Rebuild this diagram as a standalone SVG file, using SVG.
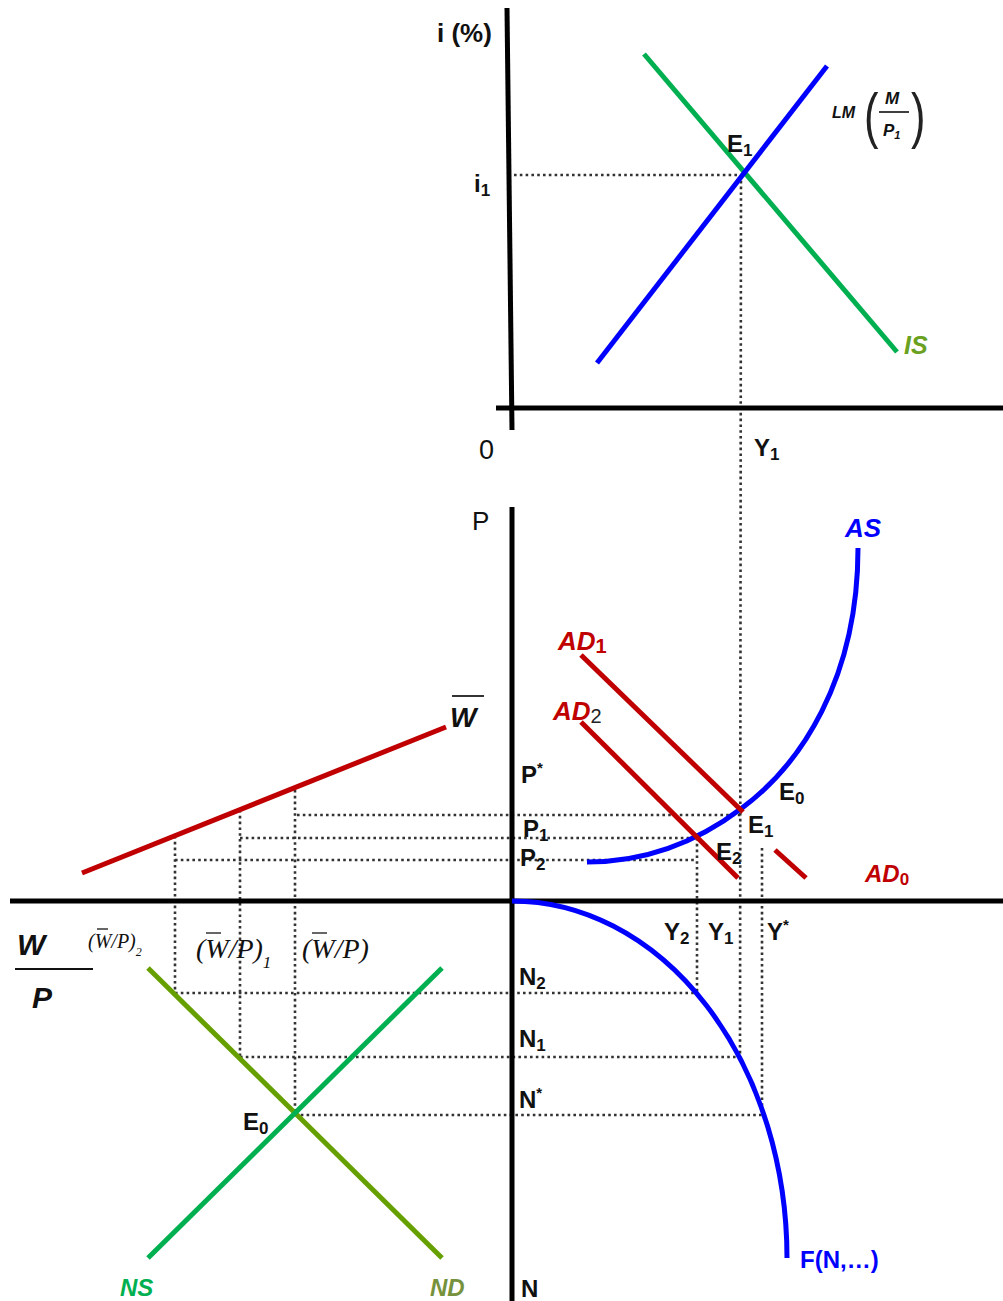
<svg xmlns="http://www.w3.org/2000/svg" width="1003" height="1301" viewBox="0 0 1003 1301">
<style>
text{font-family:"Liberation Sans",Arial,sans-serif;font-weight:bold;font-size:24px;fill:#111}
.it{font-style:italic}
.sub{font-size:17px}
.ax{stroke:#000;stroke-width:5;fill:none}
.dot{stroke:#333;stroke-width:2.6;stroke-dasharray:2.6,3.2;fill:none}
.blue{stroke:#0000ff;stroke-width:5;fill:none}
.red{stroke:#c00000;stroke-width:5;fill:none}
.serif{font-family:"Liberation Serif","Times New Roman",serif;font-weight:normal;font-style:italic}
</style>
<rect width="1003" height="1301" fill="#fff"/>

<g id="connectors">
  <line class="dot" x1="514" y1="175" x2="742" y2="175"/>
  <line class="dot" x1="741" y1="175" x2="740" y2="1057"/>
  <line class="dot" x1="297" y1="815" x2="742" y2="815"/>
  <line class="dot" x1="240" y1="838" x2="700" y2="838"/>
  <line class="dot" x1="175" y1="860" x2="694" y2="860"/>
  <line class="dot" x1="175" y1="836" x2="175" y2="993"/>
  <line class="dot" x1="240" y1="810" x2="240" y2="1057"/>
  <line class="dot" x1="295" y1="790" x2="295" y2="1115"/>
  <line class="dot" x1="697" y1="838" x2="697" y2="993"/>
  <line class="dot" x1="762" y1="848" x2="762" y2="1115"/>
  <line class="dot" x1="175" y1="993" x2="697" y2="993"/>
  <line class="dot" x1="240" y1="1057" x2="740" y2="1057"/>
  <line class="dot" x1="295" y1="1115" x2="762" y2="1115"/>
</g>

<g id="axes">
  <line class="ax" x1="507" y1="8" x2="512" y2="430"/>
  <line class="ax" x1="496" y1="408" x2="1003" y2="408"/>
  <line class="ax" x1="512" y1="507" x2="512" y2="1301"/>
  <line class="ax" x1="10" y1="901" x2="1003" y2="901"/>
</g>

<g id="IS">
  <line x1="644" y1="54" x2="897" y2="352" stroke="#00b050" stroke-width="5"/>
  <text class="it" x="904" y="354" style="fill:#6aa121;font-size:25px">IS</text>
</g>
<g id="LM">
  <line class="blue" x1="597" y1="363" x2="827" y2="66"/>
  <text class="it" x="832" y="118" style="font-size:16px">LM</text>
  <text x="864" y="136" style="font-weight:normal;font-size:62px;fill:#222;transform:scale(0.7,1);transform-origin:864px 136px">(</text>
  <text x="885" y="104" class="it" style="font-size:17px">M</text>
  <line x1="879" y1="112" x2="909" y2="112" stroke="#111" stroke-width="1.6"/>
  <text x="883" y="136" class="it" style="font-size:17px">P<tspan style="font-size:11px" dy="3">1</tspan></text>
  <text x="911" y="136" style="font-weight:normal;font-size:62px;fill:#222;transform:scale(0.7,1);transform-origin:911px 136px">)</text>
</g>
<g id="top-labels">
  <text x="437" y="42" style="font-size:26px">i (%)</text>
  <text x="474" y="192">i<tspan class="sub" dy="4">1</tspan></text>
  <text x="479" y="459" style="font-weight:normal;font-size:27px">0</text>
  <text x="754" y="456">Y<tspan class="sub" dy="4">1</tspan></text>
  <text x="727" y="152">E<tspan class="sub" dy="4">1</tspan></text>
</g>

<g id="AS">
  <path class="blue" d="M587,862 C650,862 700,840 742,808 C800,765 858,680 858,548"/>
  <text class="it" x="845" y="537" style="fill:#0000ff;font-size:26px">AS</text>
</g>
<g id="AD1">
  <line class="red" x1="581" y1="655" x2="743" y2="812"/>
  <text class="it" x="558" y="650" style="fill:#c00000;font-size:26px">AD<tspan dy="3" style="font-style:normal;font-size:20px">1</tspan></text>
</g>
<g id="AD2">
  <line class="red" x1="581" y1="722" x2="738" y2="878"/>
  <text class="it" x="553" y="720" style="fill:#c00000;font-size:26px">AD<tspan dy="3" style="font-style:normal;font-weight:normal;font-size:20px;fill:#222">2</tspan></text>
</g>
<g id="AD0">
  <line class="red" x1="775" y1="850" x2="806" y2="878"/>
  <text class="it" x="865" y="882" style="fill:#c00000;font-size:24px">AD<tspan dy="3" style="font-style:normal;font-size:17px">0</tspan></text>
</g>
<g id="Wbar">
  <line class="red" x1="82" y1="873" x2="446" y2="727"/>
  <text class="it" x="450" y="727" style="font-size:28px">W</text>
  <line x1="452" y1="696" x2="484" y2="696" stroke="#333" stroke-width="2"/>
</g>
<g id="mid-labels">
  <text x="472" y="530" style="font-weight:normal;font-size:26px">P</text>
  <text x="521" y="783">P<tspan style="font-size:15px" dy="-10">*</tspan></text>
  <text x="779" y="800">E<tspan class="sub" dy="4">0</tspan></text>
  <text x="523" y="837">P<tspan class="sub" dy="4">1</tspan></text>
  <text x="748" y="833">E<tspan class="sub" dy="4">1</tspan></text>
  <text x="520" y="866">P<tspan class="sub" dy="4">2</tspan></text>
  <text x="716" y="860">E<tspan class="sub" dy="4">2</tspan></text>
  <text x="664" y="940">Y<tspan class="sub" dy="4">2</tspan></text>
  <text x="708" y="940">Y<tspan class="sub" dy="4">1</tspan></text>
  <text x="767" y="940">Y<tspan style="font-size:15px" dy="-10">*</tspan></text>
</g>

<g id="F">
  <path class="blue" d="M512,901 A275,357 0 0,1 787,1258"/>
  <text x="800" y="1268" style="fill:#0000ff;font-size:24px">F(N,…)</text>
</g>
<g id="N-labels">
  <text x="519" y="985">N<tspan class="sub" dy="4">2</tspan></text>
  <text x="519" y="1047">N<tspan class="sub" dy="4">1</tspan></text>
  <text x="519" y="1108">N<tspan style="font-size:15px" dy="-10">*</tspan></text>
  <text x="521" y="1297">N</text>
</g>
<g id="WP-axis">
  <text class="it" x="17" y="955" style="font-size:30px">W</text>
  <line x1="15" y1="969" x2="93" y2="969" stroke="#111" stroke-width="2"/>
  <text class="it" x="32" y="1008" style="font-size:30px">P</text>
</g>
<g id="WP-levels">
  <text class="serif" x="88" y="948" style="font-size:20px">(W/P)<tspan dy="8" style="font-size:12px">2</tspan></text>
  <line x1="97" y1="929" x2="108" y2="929" stroke="#333" stroke-width="1.5"/>
  <text class="serif" x="196" y="958" style="font-size:28px">(W/P)<tspan dy="10" style="font-size:17px">1</tspan></text>
  <line x1="206" y1="933" x2="221" y2="933" stroke="#333" stroke-width="1.5"/>
  <text class="serif" x="302" y="958" style="font-size:28px">(W/P)</text>
  <line x1="312" y1="933" x2="327" y2="933" stroke="#333" stroke-width="1.5"/>
</g>
<g id="ND">
  <line x1="148" y1="968" x2="442" y2="1258" stroke="#66a000" stroke-width="5"/>
  <text class="it" x="430" y="1296" style="fill:#76923c;font-size:24px">ND</text>
</g>
<g id="NS">
  <line x1="148" y1="1258" x2="442" y2="968" stroke="#00b050" stroke-width="5"/>
  <text class="it" x="120" y="1296" style="fill:#00b050;font-size:24px">NS</text>
</g>
<g id="E0-labor">
  <text x="243" y="1130">E<tspan class="sub" dy="4">0</tspan></text>
</g>
</svg>
